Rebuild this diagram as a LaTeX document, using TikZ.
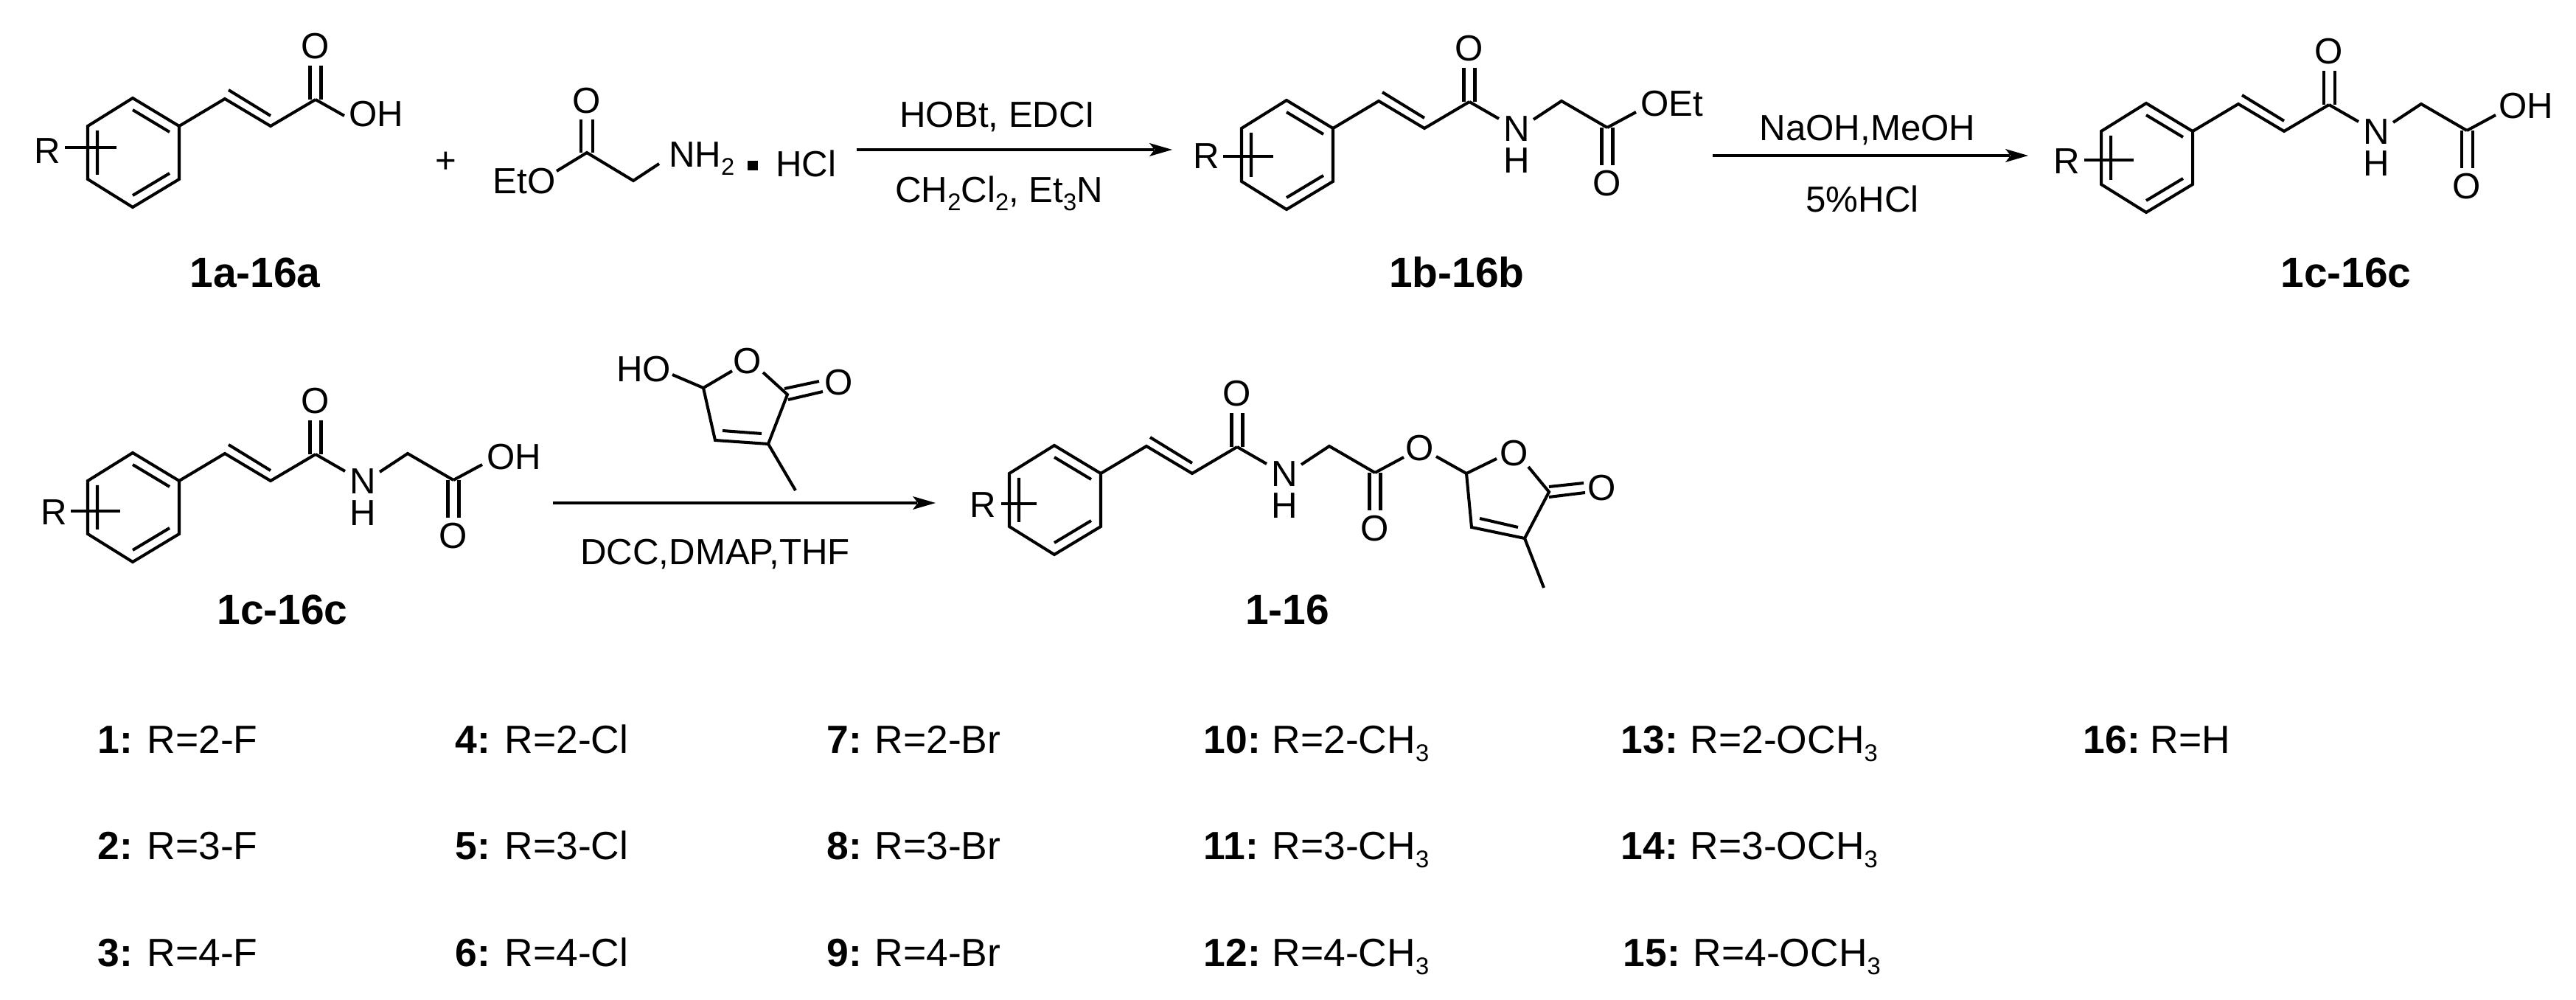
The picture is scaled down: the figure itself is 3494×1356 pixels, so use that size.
\documentclass[tikz,border=0pt]{standalone}
\usepackage{fontspec}
\setmainfont{Liberation Sans}
\newcommand{\sbs}[1]{\raisebox{-1.1mm}{\fontsize{9.3}{10}\selectfont #1}}
\tikzset{
  bond/.style={line width=1.15pt,line cap=butt,line join=miter,black},
  rxn/.style={line width=1.2pt,black},
  atomlabel/.style={inner sep=0pt,outer sep=0pt,font=\fontsize{14}{16}\selectfont,text=black},
  basetext/.style={atomlabel,anchor=base},
  westtext/.style={atomlabel,anchor=base west},
  cmpd/.style={inner sep=0pt,anchor=base,font=\bfseries\fontsize{16.2}{18}\selectfont},
  entry/.style={inner sep=0pt,anchor=base west,font=\fontsize{15.2}{16}\selectfont},
  entrynum/.style={inner sep=0pt,anchor=base west,font=\bfseries\fontsize{15.2}{16}\selectfont},
}
% cinnamoyl part; origin frame = acid at top left
\newcommand{\cinnamoyl}[5]{% R x, R y, line x1, line x2, line y
  \draw[bond] (180,133)--(243,171)--(243,243)--(180,281)--(119,243)--(119,171)--cycle;
  \draw[bond] (180,149)--(230,179) (230,235)--(180,265) (132,177)--(132,237);
  \draw[bond] (243,171)--(305,134)--(367,171)--(428,135);
  \draw[bond] (310,122)--(367,157);
  \draw[bond] (420.5,135)--(420.5,89) (435.5,135)--(435.5,89);
  \node[atomlabel] (oa) at (428,63) {O};
  \node[atomlabel] (r) at (#1,#2) {R};
  \draw[bond] (#3,#5)--(#4,#5);
}
% glycine part
\newcommand{\glycine}{%
  \node[atomlabel] (n) at (492,172) {N};
  \node[atomlabel] (h) at (492,215) {H};
  \draw[bond] (428,135)--(468,158);
  \draw[bond] (515,159)--(553,134)--(615,170);
  \draw[bond] (607.5,170)--(607.5,221) (622.5,170)--(622.5,221);
  \node[atomlabel] (ob) at (615,246) {O};
  \draw[bond] (615,170)--(654,149);
}
\newcommand{\tabent}[5]{% num x, rest x, y, num, rest
  \node[entrynum] at (#1,#3) {#4:};
  \node[entry] at (#2,#3) {#5};
}
\begin{document}
\begin{tikzpicture}[x=0.1mm,y=-0.1mm]
\useasboundingbox (0,0) rectangle (3494,1356);
\fill[white] (0,0) rectangle (3494,1356);

% ---------- 1a
\begin{scope}[name prefix=ma-]
  \cinnamoyl{64}{205}{88}{158}{200}
  \draw[bond] (428,135)--(467,157);
  \node[westtext] (oh) at (473,172) {OH};
\end{scope}
\node[atomlabel,font=\fontsize{14}{16}\selectfont] (plus) at (605,220) {+};
% ---------- glycine ester
\node[atomlabel,anchor=base] (eto) at (711,263) {EtO};
\draw[bond] (755,232)--(796,207)--(859,245)--(894,222);
\draw[bond] (788,207)--(788,162) (804,207)--(804,162);
\node[atomlabel] (ogly) at (796,137) {O};
\node[westtext] (nh2) at (907,227) {NH\sbs{2}};
\fill[black] (1014,218) rectangle (1028,231);
\node[westtext] (hcl) at (1052,240) {HCl};
\node[cmpd] (la) at (346,390) {1a-16a};

% ---------- arrow 1
\coordinate (a1s) at (1162,203);
\coordinate (a1e) at (1590,203);
\draw[rxn] (a1s)--(1565,203);
\fill[black] (a1e)--(1559,194)--(1566,203)--(1559,212)--cycle;
\node[basetext] (r1t) at (1353,173) {HOBt, EDCI};
\node[basetext] (r1b) at (1355,275) {CH\sbs{2}Cl\sbs{2}, Et\sbs{3}N};

% ---------- 1b
\begin{scope}[shift={(1565,3)},name prefix=mb-]
  \cinnamoyl{71}{209}{94}{162}{209}
  \glycine
  \node[westtext] (oet) at (660,155) {OEt};
\end{scope}
\node[cmpd] (lb) at (1976,390) {1b-16b};

% ---------- arrow 2
\coordinate (a2s) at (2323,211);
\coordinate (a2e) at (2751,211);
\draw[rxn] (a2s)--(2726,211);
\fill[black] (a2e)--(2720,202)--(2727,211)--(2720,220)--cycle;
\node[basetext] (r2t) at (2533,191) {NaOH,MeOH};
\node[basetext] (r2b) at (2526,288) {5\%HCl};

% ---------- 1c right
\begin{scope}[shift={(2731,7)},name prefix=mc-]
  \cinnamoyl{72}{212}{96}{163}{210}
  \glycine
  \node[westtext] (oh) at (658,154) {OH};
\end{scope}
\node[cmpd] (lc) at (3182,390) {1c-16c};

% ---------- 1c left
\begin{scope}[shift={(0,481)},name prefix=md-]
  \cinnamoyl{73}{214}{96}{163}{212}
  \glycine
  \node[westtext] (oh) at (660,156) {OH};
\end{scope}
\node[cmpd] (ld) at (383,847) {1c-16c};

% ---------- lactone reagent
\node[westtext] (ho) at (836,518) {HO};
\draw[bond] (912,508)--(954,526)--(993,503);
\node[atomlabel] (ol) at (1014,490) {O};
\draw[bond] (1035,505)--(1068,535)--(1042,602)--(970,597)--(954,526);
\draw[bond] (980,584)--(1033,588);
\draw[bond] (1042,602)--(1079,665);
\draw[bond] (1064,527)--(1111,517) (1069,542)--(1116,531);
\node[atomlabel] (olc) at (1138,519) {O};

% ---------- arrow 3
\coordinate (a3s) at (750,682);
\coordinate (a3e) at (1269,682);
\draw[rxn] (a3s)--(1244,682);
\fill[black] (a3e)--(1238,673)--(1245,682)--(1238,691)--cycle;
\node[basetext] (r3) at (970,765) {DCC,DMAP,THF};

% ---------- product
\begin{scope}[shift={(1250,471)},name prefix=mp-]
  \cinnamoyl{83}{214}{108}{156}{212}
  \glycine
\end{scope}
\node[atomlabel] (oe) at (1926,608) {O};
\draw[bond] (1948,619)--(1989,642)--(2030,622);
\node[atomlabel] (opr) at (2054,615) {O};
\draw[bond] (2073,633)--(2101,667)--(2068,730)--(1996,715)--(1989,642);
\draw[bond] (2007,703)--(2059,715);
\draw[bond] (2068,730)--(2094,797);
\draw[bond] (2101,660)--(2148,655) (2101,674)--(2150,668);
\node[atomlabel] (opc) at (2173,662) {O};
\node[cmpd] (lp) at (1746,847) {1-16};

% ---------- table
\tabent{132}{199}{1021}{1}{R=2-F}
\tabent{132}{199}{1165}{2}{R=3-F}
\tabent{132}{199}{1310}{3}{R=4-F}
\tabent{617}{684}{1021}{4}{R=2-Cl}
\tabent{617}{684}{1165}{5}{R=3-Cl}
\tabent{617}{684}{1310}{6}{R=4-Cl}
\tabent{1121}{1186}{1021}{7}{R=2-Br}
\tabent{1121}{1186}{1165}{8}{R=3-Br}
\tabent{1121}{1186}{1310}{9}{R=4-Br}
\tabent{1632}{1725}{1021}{10}{R=2-CH\sbs{3}}
\tabent{1632}{1725}{1165}{11}{R=3-CH\sbs{3}}
\tabent{1632}{1725}{1310}{12}{R=4-CH\sbs{3}}
\tabent{2198}{2292}{1021}{13}{R=2-OCH\sbs{3}}
\tabent{2198}{2292}{1165}{14}{R=3-OCH\sbs{3}}
\tabent{2201}{2296}{1310}{15}{R=4-OCH\sbs{3}}
\tabent{2825}{2916}{1021}{16}{R=H}
\end{tikzpicture}
\end{document}
